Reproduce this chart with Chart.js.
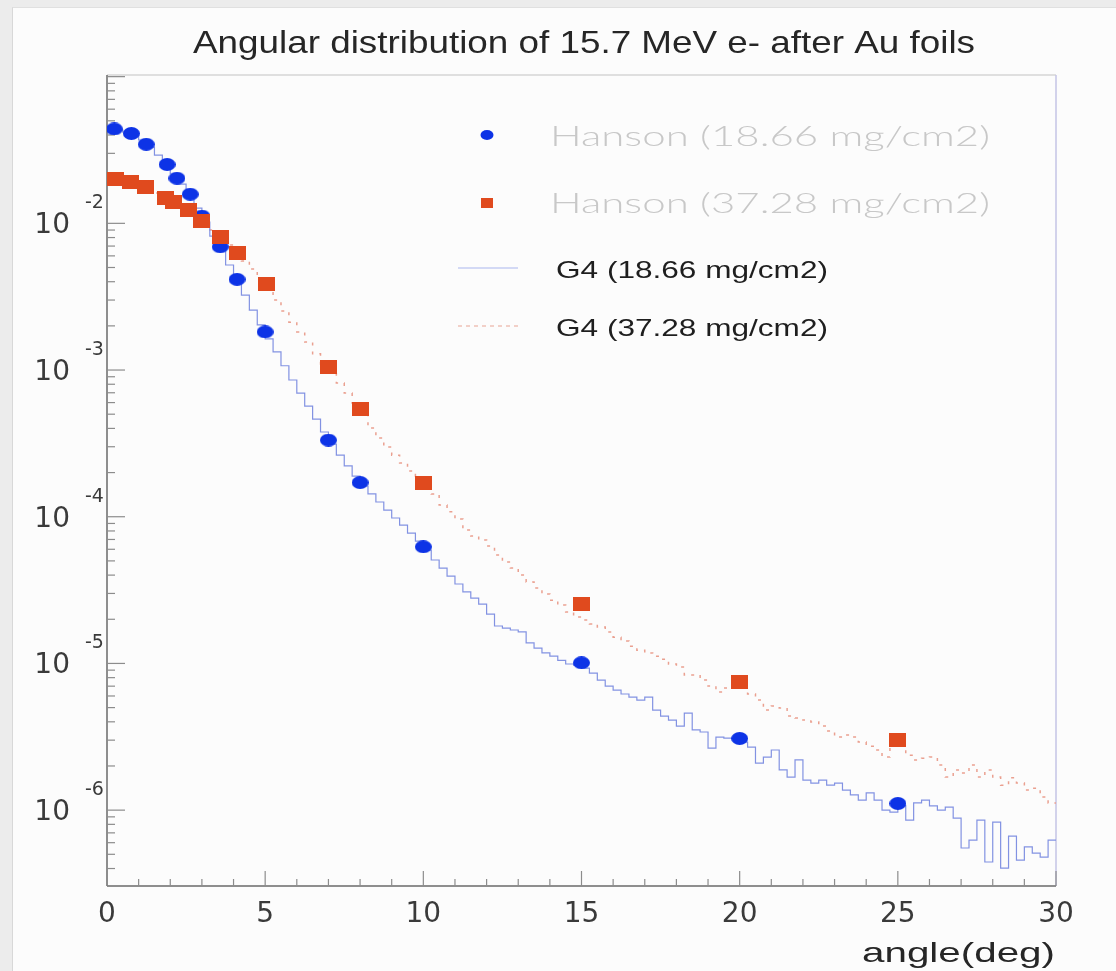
<!DOCTYPE html>
<html>
<head>
<meta charset="utf-8">
<title>Angular distribution of 15.7 MeV e- after Au foils</title>
<script src="https://cdn.jsdelivr.net/npm/chart.js@4/dist/chart.umd.min.js"></script>
<style>
  body { margin: 0; background: #ececec; }
  #pad { position: absolute; left: 12px; top: 7px; right: 0; bottom: 0; background: #fcfcfc; border-left: 1px solid #d8d8d8; border-top: 1px solid #e0e0e0; }
  #graph { position: absolute; left: 0; top: 0; }
</style>
</head>
<body>
<div id="pad"></div>
<canvas id="graph" width="1116" height="971"></canvas>
<script>
// Hanson measurements (angle in deg, relative yield)
const hansonThinAngles = [0.23, 0.77, 1.24, 1.90, 2.21, 2.63, 3.0, 3.58, 4.11, 5, 7, 8, 10, 15, 20, 25]
const hansonThin = [0.0440, 0.0410, 0.0346, 0.0252, 0.0203, 0.0158, 0.0112, 0.00692, 0.00415, 0.00182,
    3.33e-4, 1.71e-4, 6.24e-5, 1.01e-5, 3.08e-6, 1.11e-6]
const hansonThickAngles = [0.26, 0.74, 1.23, 1.84, 2.10, 2.58, 3.0, 3.58, 4.11, 5.03, 7, 8, 10, 15, 20, 25]
const hansonThick = [0.0200, 0.0192, 0.0178, 0.0148, 0.0140, 0.0123, 0.0104, 0.00811, 0.00631, 0.00384,
    1.055e-3, 5.42e-4, 1.71e-4, 2.54e-5, 7.5e-6, 3.0e-6]

// G4 histograms, 0.25 deg bins from 0 to 30
const binWidth = 0.25
const g4Thin = [
    0.0446, 0.0432, 0.0419, 0.0400, 0.0370, 0.0331, 0.0292, 0.0258, 0.0217, 0.0185,
    0.0158, 0.0127, 0.0102, 0.00819, 0.00658, 0.00520, 0.00411, 0.00324, 0.00256, 0.00203,
    0.00163, 0.00133, 0.00107, 8.55e-4, 6.97e-4, 5.68e-4, 4.63e-4, 3.78e-4, 3.13e-4, 2.63e-4,
    2.22e-4, 1.89e-4, 1.62e-4, 1.43e-4, 1.26e-4, 1.11e-4, 9.80e-5, 8.78e-5, 7.74e-5, 6.83e-5,
    5.93e-5, 5.07e-5, 4.47e-5, 3.94e-5, 3.48e-5, 3.07e-5, 2.79e-5, 2.54e-5, 2.17e-5, 1.80e-5,
    1.74e-5, 1.69e-5, 1.64e-5, 1.38e-5, 1.27e-5, 1.18e-5, 1.12e-5, 1.05e-5, 9.91e-6, 9.75e-6,
    9.30e-6, 8.60e-6, 7.70e-6, 7.01e-6, 6.58e-6, 6.19e-6, 5.90e-6, 5.63e-6, 5.90e-6, 4.81e-6,
    4.38e-6, 4.11e-6, 3.74e-6, 4.59e-6, 3.52e-6, 3.41e-6, 2.65e-6, 3.15e-6, 3.10e-6, 3.10e-6,
    2.91e-6, 2.69e-6, 2.09e-6, 2.30e-6, 2.57e-6, 1.88e-6, 1.68e-6, 2.20e-6, 1.60e-6, 1.53e-6,
    1.60e-6, 1.48e-6, 1.53e-6, 1.37e-6, 1.27e-6, 1.17e-6, 1.31e-6, 1.17e-6, 1.00e-6, 9.70e-7,
    1.08e-6, 8.56e-7, 1.12e-6, 1.17e-6, 1.07e-6, 1.00e-6, 1.05e-6, 8.83e-7, 5.52e-7, 6.25e-7,
    8.56e-7, 4.43e-7, 8.29e-7, 4.03e-7, 6.66e-7, 4.57e-7, 5.61e-7, 5.10e-7, 4.79e-7, 6.25e-7
]
const g4Thick = [
    0.0200, 0.0197, 0.0194, 0.0188, 0.0180, 0.0171, 0.0161, 0.0151, 0.0140, 0.0129,
    0.0119, 0.0109, 0.00989, 0.00900, 0.00806, 0.00711, 0.00627, 0.00553, 0.00488, 0.00424,
    0.00368, 0.00300, 0.00253, 0.00212, 0.00182, 0.00155, 0.00129, 0.00110, 9.69e-4, 8.15e-4,
    6.97e-4, 5.96e-4, 5.01e-4, 4.02e-4, 3.44e-4, 2.99e-4, 2.63e-4, 2.32e-4, 2.05e-4, 1.81e-4,
    1.62e-4, 1.43e-4, 1.20e-4, 1.08e-4, 9.64e-5, 8.11e-5, 7.38e-5, 6.94e-5, 6.31e-5, 5.48e-5,
    4.91e-5, 4.47e-5, 4.00e-5, 3.59e-5, 3.27e-5, 2.97e-5, 2.70e-5, 2.50e-5, 2.24e-5, 2.07e-5,
    1.98e-5, 1.86e-5, 1.77e-5, 1.64e-5, 1.51e-5, 1.42e-5, 1.31e-5, 1.23e-5, 1.18e-5, 1.12e-5,
    1.07e-5, 9.91e-6, 9.45e-6, 8.34e-6, 8.34e-6, 7.70e-6, 7.01e-6, 6.38e-6, 6.80e-6, 7.24e-6,
    6.80e-6, 6.19e-6, 5.63e-6, 4.81e-6, 5.12e-6, 4.97e-6, 4.38e-6, 4.24e-6, 4.11e-6, 3.99e-6,
    3.74e-6, 3.46e-6, 3.15e-6, 3.25e-6, 3.15e-6, 2.91e-6, 2.73e-6, 2.57e-6, 2.30e-6, 2.78e-6,
    2.78e-6, 2.37e-6, 2.20e-6, 2.26e-6, 2.30e-6, 2.03e-6, 1.68e-6, 1.88e-6, 1.79e-6, 2.03e-6,
    1.68e-6, 1.88e-6, 1.68e-6, 1.48e-6, 1.66e-6, 1.53e-6, 1.37e-6, 1.41e-6, 1.23e-6, 1.12e-6
]

// axis labels
const xTicks = [0, 5, 10, 15, 20, 25, 30]
const yDecades = [-2, -3, -4, -5, -6]
const chartTitle = 'Angular distribution of 15.7 MeV e- after Au foils'
const xTitle = 'angle(deg)'

const blue = '#0d33e6'
const red = '#e04a1e'

// points for a stepped line: one per bin low edge, plus the closing edge
const histPoints = (values) => {
    let pts = values.map((v, i) => ({x: i * binWidth, y: v}))
    pts.push({x: values.length * binWidth, y: values[values.length - 1]})
    return pts
}

const markerPoints = (angles, values) => angles.map((a, i) => ({x: a, y: values[i]}))

// small canvases used as point styles (markers are a bit wider than tall)
const makeMarker = (w, h, color, round) => {
    let c = document.createElement('canvas')
    c.width = w
    c.height = h
    let g = c.getContext('2d')
    g.fillStyle = color
    if (round) {
        g.beginPath()
        g.ellipse(w / 2, h / 2, w / 2, h / 2, 0, 0, Math.PI * 2)
        g.fill()
    } else {
        g.fillRect(0, 0, w, h)
    }
    return c
}

const line = (ctx, x0, y0, x1, y1) => {
    ctx.beginPath()
    ctx.moveTo(x0, y0)
    ctx.lineTo(x1, y1)
    ctx.stroke()
}

// text squeezed/stretched to run between x0 and x1
const fitText = (ctx, str, x0, x1, y, font, color) => {
    ctx.save()
    ctx.font = font
    ctx.fillStyle = color
    ctx.textAlign = 'left'
    ctx.textBaseline = 'alphabetic'
    let w = ctx.measureText(str).width
    ctx.translate(x0, y)
    ctx.scale((x1 - x0) / w, 1)
    ctx.fillText(str, 0, 0)
    ctx.restore()
}

const rootFrame = {
    id: 'rootFrame',
    beforeDatasetsDraw(chart) {
        const {ctx, chartArea: a, scales: {x, y}} = chart
        ctx.save()
        ctx.lineWidth = 1.5
        ctx.strokeStyle = '#d6d6d6'
        line(ctx, a.left, a.top, a.right, a.top)
        ctx.strokeStyle = '#c4c4e6'
        line(ctx, a.right, a.top, a.right, a.bottom)
        ctx.strokeStyle = '#6a6a6a'
        line(ctx, a.left, a.top, a.left, a.bottom)
        line(ctx, a.left, a.bottom, a.right, a.bottom)

        // ticks point into the frame
        ctx.strokeStyle = '#8c8c8c'
        ctx.lineWidth = 1.2
        for (let d = 0; d <= 30; d++) {
            let px = x.getPixelForValue(d)
            line(ctx, px, a.bottom, px, a.bottom - (d % 5 === 0 ? 15 : 7))
        }
        for (let e = -7; e <= -1; e++) {
            for (let m = 1; m <= 9; m++) {
                let v = m * Math.pow(10, e)
                if (v < y.min || v > y.max) continue
                let py = y.getPixelForValue(v)
                line(ctx, a.left, py, a.left + (m === 1 ? 18 : 8), py)
            }
        }
        ctx.restore()
    },
    afterDraw(chart) {
        const {ctx, chartArea: a, scales: {x, y}} = chart
        const ds = chart.data.datasets
        ctx.save()

        // tick labels
        ctx.fillStyle = '#3a3a3a'
        ctx.textBaseline = 'alphabetic'
        ctx.font = '28px "DejaVu Sans"'
        ctx.textAlign = 'center'
        xTicks.forEach(d => ctx.fillText(String(d), x.getPixelForValue(d), a.bottom + 36))
        yDecades.forEach(e => {
            let py = y.getPixelForValue(Math.pow(10, e))
            ctx.font = '28px "DejaVu Sans"'
            ctx.textAlign = 'right'
            ctx.fillText('10', a.left - 37, py + 10)
            ctx.font = '19px "DejaVu Sans"'
            ctx.textAlign = 'left'
            ctx.fillText(String(e), a.left - 22, py - 15)
        })

        fitText(ctx, chartTitle, 193, 975, 53, '32px "Liberation Sans"', '#262626')
        fitText(ctx, xTitle, 862, 1055, 962, '28px "Liberation Sans"', '#262626')

        // legend
        ctx.fillStyle = ds[1].borderColor
        ctx.beginPath()
        ctx.ellipse(487, 135, 6.5, 5, 0, 0, Math.PI * 2)
        ctx.fill()
        ctx.fillStyle = ds[0].borderColor
        ctx.fillRect(481, 198, 12, 10)
        fitText(ctx, ds[1].label, 550, 990, 146, '300 27px Lato', '#c8c8c8')
        fitText(ctx, ds[0].label, 550, 990, 213, '300 27px Lato', '#c8c8c8')

        ctx.lineWidth = 1.2
        ctx.strokeStyle = '#a9b5ee'
        line(ctx, 458, 268, 518, 268)
        ctx.strokeStyle = '#ebb3a6'
        ctx.setLineDash([4, 4])
        line(ctx, 458, 326, 518, 326)
        ctx.setLineDash([])
        fitText(ctx, ds[2].label, 556, 828, 278, '24px "Liberation Sans"', '#1e1e1e')
        fitText(ctx, ds[3].label, 556, 828, 336, '24px "Liberation Sans"', '#1e1e1e')

        ctx.restore()
    }
}

const ctx = document.getElementById('graph').getContext('2d')
const chart = new Chart(ctx, {
    type: 'line',
    data: {
        datasets: [{
            label: 'Hanson (37.28 mg/cm2)',
            data: markerPoints(hansonThickAngles, hansonThick),
            showLine: false,
            borderColor: red,
            backgroundColor: red,
            pointStyle: makeMarker(17, 14, red, false),
            pointRadius: 7
        }, {
            label: 'Hanson (18.66 mg/cm2)',
            data: markerPoints(hansonThinAngles, hansonThin),
            showLine: false,
            borderColor: blue,
            backgroundColor: blue,
            pointStyle: makeMarker(17, 13, blue, true),
            pointRadius: 7
        }, {
            label: 'G4 (18.66 mg/cm2)',
            data: histPoints(g4Thin),
            stepped: true,
            borderColor: '#8292e2',
            borderWidth: 1.2,
            pointRadius: 0,
            fill: false
        }, {
            label: 'G4 (37.28 mg/cm2)',
            data: histPoints(g4Thick),
            stepped: true,
            borderColor: '#eaa090',
            borderWidth: 1.5,
            borderDash: [3, 6],
            pointRadius: 0,
            fill: false
        }]
    },
    options: {
        responsive: false,
        animation: false,
        events: [],
        layout: {padding: {left: 107, right: 60, top: 75, bottom: 85}},
        plugins: {
            legend: {display: false},
            tooltip: {enabled: false}
        },
        scales: {
            x: {type: 'linear', min: 0, max: 30, display: false},
            y: {type: 'logarithmic', min: 3.04e-7, max: 0.1026, display: false}
        }
    },
    plugins: [rootFrame]
})
</script>
</body>
</html>
